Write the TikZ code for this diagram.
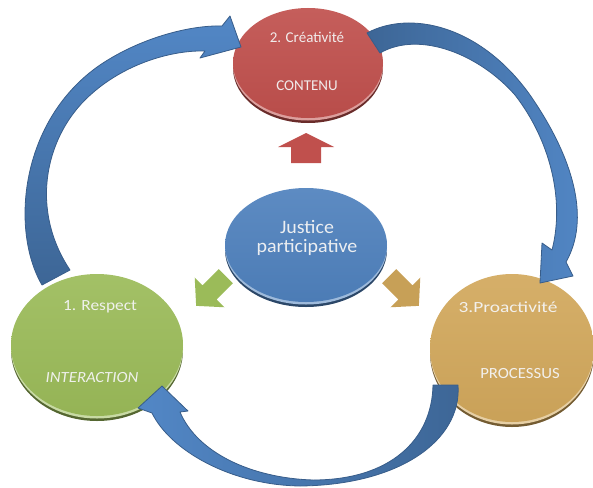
\documentclass[tikz,border=0pt]{standalone}
\usepackage{fontspec}
\setmainfont{Carlito}
\usetikzlibrary{shapes.geometric}
\definecolor{cblue}{HTML}{4F81BD}
\definecolor{cbluelt}{HTML}{5287C6}
\definecolor{cbluedk}{HTML}{3D6696}
\definecolor{cblueln}{HTML}{385D8A}
\definecolor{cred}{HTML}{C0504D}
\definecolor{cgreen}{HTML}{9BBB59}
\definecolor{cgold}{HTML}{D2A85C}
\definecolor{ctext}{HTML}{F4F4F4}
\newcommand\mydisc[6]{%
  \fill[#6!55!black] (#2,#3+5) ellipse [x radius=#4pt, y radius=#5pt];
  \fill[#6!55!white] (#2,#3+2.5) ellipse [x radius=#4pt, y radius=#5pt];
  \node[discnode, minimum width=2*#4pt, minimum height=2*#5pt,
        top color=#6!92!white, bottom color=#6!96!black] (#1) at (#2,#3) {};}
\tikzset{
  discnode/.style={ellipse, inner sep=0pt, draw=none},
  lbl/.style={anchor=base, text=ctext, text opacity=0.95, inner sep=0pt},
  bigarrow/.style={draw=cblueln, line width=0.8pt, line join=round},
  pics/barrow/.style n args={5}{code={
    \fill[#5] (-#1,-#4) -- (#1-#2,-#4) -- (#1-#2,-#3) -- (#1,0)
      -- (#1-#2,#3) -- (#1-#2,#4) -- (-#1,#4) -- cycle;}},
}
\begin{document}
\begin{tikzpicture}[x=1pt,y=-1pt]
\useasboundingbox (0,0) rectangle (593,487);
% discs
\mydisc{red}{308}{63}{75}{55}{cred}
\mydisc{center}{306}{245}{81}{57}{cblue}
\mydisc{green}{97}{345}{86}{71}{cgreen}
\mydisc{gold}{512}{348}{82}{74}{cgold}
% small block arrows
\pic[rotate=90] at (306,148) {barrow={15}{14}{28}{15}{cred}};
\pic[rotate=225] at (211,291) {barrow={21}{19}{21}{10}{cgreen}};
\pic[rotate=315] at (404,291) {barrow={21}{19}{21}{10}{cgold!95!black}};
% texts
\node[lbl, font=\fontsize{15}{18}\selectfont] (t2a) at (307,42) {2. Créativité};
\node[lbl, font=\fontsize{15}{18}\selectfont] (t2b) at (307,90) {CONTENU};
\node[lbl, font=\fontsize{19}{19}\selectfont, align=center] (tc1) at (307,233) {\scalebox{1.05}[1]{Justice}};
\node[lbl, font=\fontsize{19}{19}\selectfont, align=center] (tc2) at (307,252) {\scalebox{1.05}[1]{participative}};
\node[lbl, font=\fontsize{15.5}{18}\selectfont] (t1a) at (100,310) {\scalebox{1.12}[1]{1. Respect}};
\node[lbl, font=\fontsize{15.5}{18}\selectfont\itshape] (t1b) at (92,382) {\scalebox{1.08}[1]{INTERACTION}};
\node[lbl, font=\fontsize{15.5}{18}\selectfont] (t3a) at (508,312) {\scalebox{1.25}[1]{3.Proactivité}};
\node[lbl, font=\fontsize{15.5}{18}\selectfont] (t3b) at (520,378) {\scalebox{1.08}[1]{PROCESSUS}};
% curved arrows
\path[bigarrow, top color=cbluelt, bottom color=cbluedk]
  (42,285) .. controls (10,230) and (20,120) .. (100,65)
  .. controls (140,38) and (190,25) .. (222,26)
  -- (230,16) -- (241,47) -- (200,58) -- (205,51)
  .. controls (170,50) and (120,65) .. (85,100)
  .. controls (45,140) and (30,210) .. (70,270) -- cycle;
\path[bigarrow, left color=cbluedk, right color=cbluelt]
  (367,33) .. controls (410,10) and (480,25) .. (530,95)
  .. controls (575,160) and (590,220) .. (566,262)
  -- (573,276) -- (540,283) -- (542,243) -- (552,250)
  .. controls (565,200) and (550,140) .. (515,95)
  .. controls (480,55) and (420,30) .. (380,53) -- cycle;
\path[bigarrow, left color=cbluelt, right color=cbluedk]
  (458,385) .. controls (462,440) and (400,485) .. (300,486)
  .. controls (230,485) and (170,450) .. (152,413)
  -- (138,408) -- (162,386) -- (188,411) -- (180,412)
  .. controls (197,452) and (250,478) .. (313,480)
  .. controls (390,480) and (432,440) .. (433,385) -- cycle;
\end{tikzpicture}
\end{document}
